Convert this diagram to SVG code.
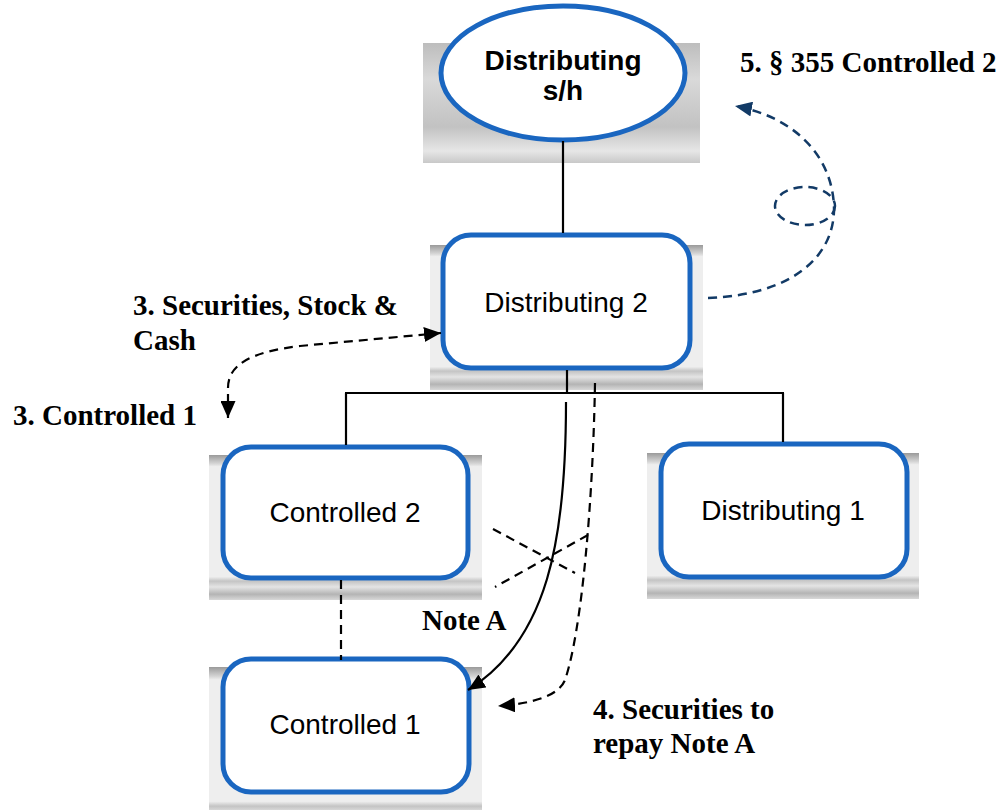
<svg xmlns="http://www.w3.org/2000/svg" width="1001" height="810" viewBox="0 0 1001 810">
<style>
.bg{fill:url(#bgGrad);}
.box{fill:#ffffff;stroke:#1A66C0;stroke-width:5;}
.ntxt{font-family:"Liberation Sans",Arial,sans-serif;font-size:28px;fill:#000;text-anchor:middle;}
.ntxtb{font-family:"Liberation Sans",Arial,sans-serif;font-size:28px;font-weight:bold;fill:#000;text-anchor:middle;}
.lbl{font-family:"Liberation Serif","Times New Roman",serif;font-size:29px;font-weight:bold;fill:#000;}
.line{fill:none;stroke:#000;stroke-width:2.2;}
.dash{fill:none;stroke:#000;stroke-width:2.2;stroke-dasharray:9 6;}
.navy{fill:none;stroke:#123A66;stroke-width:2.5;stroke-dasharray:9 6;}
</style>
<defs>
<linearGradient id="bgGrad" x1="0" y1="0" x2="0" y2="1">
<stop offset="0" stop-color="#9a9a9a"/>
<stop offset="0.06" stop-color="#d6d6d6"/>
<stop offset="0.08" stop-color="#eeeeee"/>
<stop offset="0.84" stop-color="#eeeeee"/>
<stop offset="0.87" stop-color="#c4c4c4"/>
<stop offset="0.91" stop-color="#e4e4e4"/>
<stop offset="0.96" stop-color="#b4b4b4"/>
<stop offset="1" stop-color="#d8d8d8"/>
</linearGradient>
<linearGradient id="ellGrad" x1="0" y1="0" x2="0" y2="1">
<stop offset="0" stop-color="#bdbdbd"/>
<stop offset="0.3" stop-color="#d9d9d9"/>
<stop offset="0.7" stop-color="#c2c2c2"/>
<stop offset="0.9" stop-color="#e6e6e6"/>
<stop offset="1" stop-color="#c8c8c8"/>
</linearGradient>
<marker id="arrB" markerUnits="userSpaceOnUse" markerWidth="18" markerHeight="15" refX="17" refY="7.5" orient="auto">
<path d="M0,0 L17,7.5 L0,15 Z" fill="#000"/>
</marker>
<marker id="arrN" markerUnits="userSpaceOnUse" markerWidth="18" markerHeight="15" refX="17" refY="7.5" orient="auto">
<path d="M0,0 L17,7.5 L0,15 Z" fill="#123A66"/>
</marker>
<marker id="arrBs" markerUnits="userSpaceOnUse" markerWidth="18" markerHeight="15" refX="17" refY="7.5" orient="auto-start-reverse">
<path d="M0,0 L17,7.5 L0,15 Z" fill="#000"/>
</marker>
</defs>
<rect width="1001" height="810" fill="#ffffff"/>

<g id="node-distributing-sh">
<rect x="423" y="43" width="277" height="120" fill="url(#ellGrad)"/>
<ellipse class="box" cx="563" cy="73" rx="122" ry="67"/>
<text class="ntxtb" x="563" y="70">Distributing</text>
<text class="ntxtb" x="563" y="100">s/h</text>
</g>

<g id="node-distributing2">
<rect class="bg" x="430" y="245" width="273" height="145"/>
<rect class="box" x="443" y="235" width="247" height="133" rx="28"/>
<text class="ntxt" x="566" y="312">Distributing 2</text>
</g>

<g id="node-controlled2">
<rect class="bg" x="209" y="455" width="273" height="145"/>
<rect class="box" x="223" y="447" width="245" height="131" rx="28"/>
<text class="ntxt" x="345" y="522">Controlled 2</text>
</g>

<g id="node-distributing1">
<rect class="bg" x="647" y="453" width="272" height="146"/>
<rect class="box" x="661" y="444" width="246" height="133" rx="28"/>
<text class="ntxt" x="783" y="520">Distributing 1</text>
</g>

<g id="node-controlled1">
<rect class="bg" x="209" y="667" width="273" height="160"/>
<rect class="box" x="223" y="659" width="246" height="133" rx="28"/>
<text class="ntxt" x="345" y="734">Controlled 1</text>
</g>

<g id="connectors">
<line class="line" x1="563" y1="141" x2="563" y2="233"/>
<line class="line" x1="567" y1="370" x2="567" y2="393"/>
<line class="line" x1="345" y1="393" x2="784" y2="393"/>
<line class="line" x1="346" y1="393" x2="346" y2="445"/>
<line class="line" x1="783" y1="393" x2="783" y2="442"/>
<line class="dash" x1="341" y1="580" x2="341" y2="660"/>
<path class="line" d="M566,402 C566,540 548,640 468,690" marker-end="url(#arrB)"/>
<path class="dash" d="M595,383 C593,500 582,630 565,680 Q556,702 498,706" marker-end="url(#arrB)"/>
<line class="dash" x1="493" y1="529" x2="575" y2="573"/>
<line class="dash" x1="588" y1="535" x2="495" y2="587" stroke-dasharray="9 6 2 6"/>
<path class="dash" d="M228,418 L228,388 C228,365 250,352 300,346 L441,333" marker-start="url(#arrBs)" marker-end="url(#arrB)"/>
<path class="navy" d="M708,298 C790,295 835,258 834,207 C832,152 790,116 735,106" marker-end="url(#arrN)"/>
<ellipse class="navy" cx="805" cy="206" rx="30" ry="19" stroke-dasharray="8 5"/>
</g>

<g id="labels">
<text class="lbl" x="740" y="72">5. § 355 Controlled 2</text>
<text class="lbl" x="133" y="315">3. Securities, Stock &amp;</text>
<text class="lbl" x="133" y="350">Cash</text>
<text class="lbl" x="13" y="425">3. Controlled 1</text>
<text class="lbl" x="422" y="630">Note A</text>
<text class="lbl" x="593" y="719">4. Securities to</text>
<text class="lbl" x="593" y="753">repay Note A</text>
</g>
</svg>
